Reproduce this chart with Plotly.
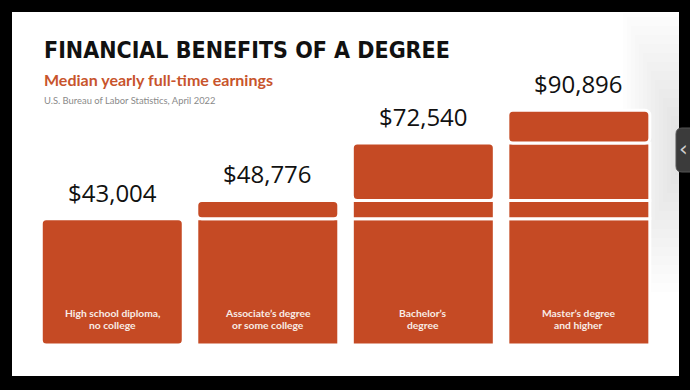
import math
import plotly.graph_objects as go

# ---------------- data ----------------
categories = [
    "High school diploma,<br>no college",
    "Associate’s degree<br>or some college",
    "Bachelor’s<br>degree",
    "Master’s degree<br>and higher",
]
earnings = [43004, 48776, 72540, 90896]
value_labels = ["$43,004", "$48,776", "$72,540", "$90,896"]

title_text = "FINANCIAL BENEFITS OF A DEGREE"
subtitle_text = "Median yearly full-time earnings"
source_text = "U.S. Bureau of Labor Statistics, April 2022"

# ---------------- styling ----------------
W, H = 690, 390
BAR = "#c54a24"
AXIS_FLOOR = 18000          # floor of the (log, non zero-based) infographic scale
LOG_FLOOR = math.log10(AXIS_FLOOR)
LOG_TOP = LOG_FLOOR + 0.8536


def px(x):
    return x / W


def py(y):
    return 1 - y / H


# stacked segments: each bar is split at the levels of the smaller bars
top_x, top_base, top_h = [], [], []
low_x, low_base, low_h = [], [], []
for i, v in enumerate(earnings):
    levels = [AXIS_FLOOR] + earnings[: i + 1]
    for j in range(i + 1):
        b, t = levels[j], levels[j + 1]
        if j == i:
            top_x.append(i); top_base.append(b); top_h.append(t - b)
        else:
            low_x.append(i); low_base.append(b); low_h.append(t - b)

fig = go.Figure()
fig.add_trace(go.Bar(
    x=low_x, y=low_h, base=low_base,
    marker=dict(color=BAR, line=dict(color="white", width=3), cornerradius=0),
    hoverinfo="skip", showlegend=False,
))
fig.add_trace(go.Bar(
    x=top_x, y=top_h, base=top_base,
    marker=dict(color=BAR, line=dict(color="white", width=3), cornerradius=5),
    hoverinfo="skip", showlegend=False,
))

annotations = []
for i, (v, lab, cat) in enumerate(zip(earnings, value_labels, categories)):
    annotations.append(dict(
        x=i, y=math.log10(v), xref="x", yref="y", text=lab, showarrow=False,
        xanchor="center", yanchor="bottom", yshift=8,
        font=dict(family="Open Sans", size=24, color="#111111"),
    ))
    lines = cat.split("<br>")
    for k, line in enumerate(lines):
        annotations.append(dict(
            x=i, y=LOG_FLOOR, xref="x", yref="y", text=line, showarrow=False,
            xanchor="center", yanchor="middle",
            yshift=32 - 11.5 * k,
            font=dict(family="Lato", size=10.3, color="#f8ece6", weight="bold"),
        ))

annotations += [
    dict(x=px(42), y=py(50.5), xref="paper", yref="paper", text=title_text,
         showarrow=False, xanchor="left", yanchor="middle",
         font=dict(family="DejaVu Sans Condensed", size=23, color="#111111", weight="bold")),
    dict(x=px(42), y=py(79.5), xref="paper", yref="paper", text=subtitle_text,
         showarrow=False, xanchor="left", yanchor="middle",
         font=dict(family="Lato", size=16, color="#c8542c", weight="bold")),
    dict(x=px(42), y=py(100.5), xref="paper", yref="paper", text=source_text,
         showarrow=False, xanchor="left", yanchor="middle",
         font=dict(family="Lato", size=9.4, color="#8a8a8a")),
    dict(x=px(683.5), y=py(148), xref="paper", yref="paper", text="‹",
         showarrow=False, xanchor="center", yanchor="middle",
         font=dict(family="DejaVu Sans", size=22, color="#cfcfcf")),
]

shapes = [
    dict(type="rect", xref="paper", yref="paper", layer="below",
         x0=px(12), x1=px(679), y0=py(376), y1=py(12),
         fillcolor="white", line=dict(width=0)),
]
# soft shading along the right edge of the card
for s in range(14):
    w = 4 + 4 * s
    half = 25 + 9 * s
    shapes.append(dict(type="rect", xref="paper", yref="paper", layer="below",
                       x0=px(679 - w), x1=px(679), y0=py(150 + half), y1=py(max(13, 150 - half)),
                       fillcolor="rgba(0,0,0,0.006)", line=dict(width=0)))
# side tab
tx0, tx1, ty0, ty1, r = 676, 692, 128, 172, 6
shapes.append(dict(
    type="path", xref="paper", yref="paper",
    path=(f"M {px(tx1)} {py(ty0)} L {px(tx0 + r)} {py(ty0)} "
          f"Q {px(tx0)} {py(ty0)} {px(tx0)} {py(ty0 + r)} "
          f"L {px(tx0)} {py(ty1 - r)} Q {px(tx0)} {py(ty1)} {px(tx0 + r)} {py(ty1)} "
          f"L {px(tx1)} {py(ty1)} Z"),
    fillcolor="#3b3b3b", line=dict(color="#555555", width=1),
))

fig.update_layout(
    width=W, height=H,
    margin=dict(l=0, r=0, t=0, b=0),
    paper_bgcolor="black", plot_bgcolor="rgba(0,0,0,0)",
    barmode="overlay", bargap=0.087,
    xaxis=dict(domain=[px(34.5), px(656.6)], range=[-0.5, 3.5], visible=False, fixedrange=True),
    yaxis=dict(type="log", domain=[py(345), py(60)], range=[LOG_FLOOR, LOG_TOP],
               visible=False, fixedrange=True),
    annotations=annotations, shapes=shapes,
)

fig.write_html("out.html", config={"displayModeBar": False})
